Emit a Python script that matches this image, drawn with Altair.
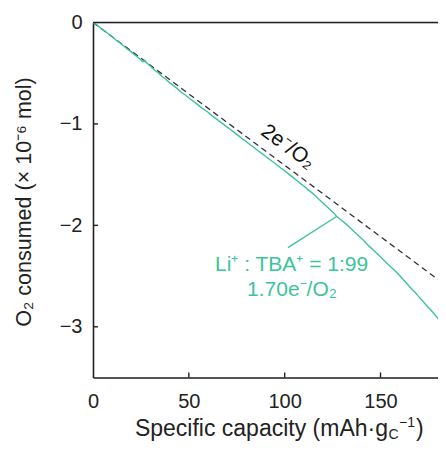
import altair as alt
import pandas as pd

# ---- data ----
capacity = [0, 2, 4, 6, 8, 10, 12, 14, 16, 18, 20, 22, 24, 26, 27, 28, 30, 32, 34, 36,
            38, 40, 42, 44, 46, 48, 50, 52, 54, 56, 58, 60, 62, 64, 66, 68, 70, 72, 74,
            76, 78, 80, 82, 84, 86, 88, 90, 92, 94, 96, 98, 100, 102, 104, 106, 108, 110,
            112, 114, 116, 118, 120, 122, 124, 126, 127, 128, 130, 132, 134, 136, 138,
            140, 142, 144, 146, 148, 150, 152, 154, 156, 158, 160, 162, 164, 166, 168,
            170, 172, 174, 176, 178, 180, 182, 184]
o2_consumed = [0.000, -0.022, -0.055, -0.082, -0.112, -0.140, -0.172, -0.200, -0.232,
               -0.262, -0.290, -0.322, -0.352, -0.388, -0.372, -0.398, -0.432, -0.468,
               -0.495, -0.532, -0.560, -0.595, -0.622, -0.652, -0.688, -0.712, -0.745,
               -0.772, -0.800, -0.832, -0.858, -0.885, -0.918, -0.945, -0.975, -1.002,
               -1.032, -1.060, -1.088, -1.118, -1.148, -1.175, -1.205, -1.232, -1.262,
               -1.290, -1.318, -1.348, -1.375, -1.405, -1.434, -1.462, -1.492, -1.522,
               -1.552, -1.584, -1.612, -1.645, -1.675, -1.708, -1.745, -1.780, -1.815,
               -1.850, -1.885, -1.910, -1.925, -1.955, -1.988, -2.022, -2.058, -2.092,
               -2.128, -2.165, -2.205, -2.238, -2.275, -2.310, -2.348, -2.385, -2.420,
               -2.455, -2.495, -2.538, -2.578, -2.622, -2.660, -2.705, -2.745, -2.790,
               -2.830, -2.872, -2.920, -2.965, -3.010]
ref_capacity = [0, 184]
ref_o2 = [0.0, -2.59]

x_ticks = [0, 50, 100, 150]
y_ticks = [0, -1, -2, -3]
x_inner_ticks = [50, 100, 150]
y_inner_ticks = [-1, -2, -3]

ann_ref_text = ["2e⁻/O₂"]
ann_ref_x = [101.7]
ann_ref_y = [-1.227]
ann_li_text = ["Li⁺ : TBA⁺ = 1:99", "1.70e⁻/O₂"]
ann_li_x = [103.6, 103.8]
ann_li_y = [-2.448, -2.695]
pointer_x = [101.7, 127.1]
pointer_y = [-2.22, -1.913]

GREEN = "#3cc49b"
INK = "#222"
FONT = "Liberation Sans"
W, H = 345, 355

xs = alt.Scale(domain=[0, 180], nice=False, zero=False)
ys = alt.Scale(domain=[-3.5, 0], nice=False, zero=False)

df_line = pd.DataFrame({"x": capacity, "y": o2_consumed})
df_ref = pd.DataFrame({"x": ref_capacity, "y": ref_o2})

base_x = alt.X("x:Q", scale=xs, axis=alt.Axis(values=x_ticks, title=None, grid=False, format="d",
               tickSize=0, labelPadding=14, labelFontSize=20, labelFont=FONT,
               labelColor=INK, domainColor=INK, domainWidth=1.6, labelFlush=False))
base_y = alt.Y("y:Q", scale=ys, axis=alt.Axis(values=y_ticks, title=None, grid=False, format="d",
               tickSize=0, labelPadding=11, labelFontSize=20, labelFont=FONT,
               labelColor=INK, domainColor=INK, domainWidth=1.6, labelFlush=False))

ref_line = alt.Chart(df_ref).mark_line(color="#333", strokeDash=[6, 4], strokeWidth=1.3, clip=True).encode(
    x=base_x, y=base_y)
green_line = alt.Chart(df_line).mark_line(color=GREEN, strokeWidth=1.4, clip=True).encode(
    x="x:Q", y="y:Q")

df_ptr = pd.DataFrame({"x": [pointer_x[0]], "y": [pointer_y[0]], "x2": [pointer_x[1]], "y2": [pointer_y[1]]})
pointer = alt.Chart(df_ptr).mark_rule(color=GREEN, strokeWidth=1.4).encode(
    x="x:Q", y="y:Q", x2="x2:Q", y2="y2:Q")

df_a1 = pd.DataFrame({"x": ann_ref_x, "y": ann_ref_y, "t": ann_ref_text})
ann1 = alt.Chart(df_a1).mark_text(font=FONT, fontSize=21, color="#111", angle=36,
                                  align="center", baseline="middle").encode(
    x="x:Q", y="y:Q", text="t:N")

df_a2 = pd.DataFrame({"x": ann_li_x, "y": ann_li_y, "t": ann_li_text})
ann2 = alt.Chart(df_a2).mark_text(font=FONT, fontSize=21, color=GREEN,
                                  align="center", baseline="alphabetic").encode(
    x="x:Q", y="y:Q", text="t:N")

df_tx = pd.DataFrame({"v": x_inner_ticks})
xtick_marks = alt.Chart(df_tx).mark_rule(color=INK, strokeWidth=1.4).encode(
    x="v:Q", y=alt.value(H), y2=alt.value(H - 5))
df_ty = pd.DataFrame({"v": y_inner_ticks})
ytick_marks = alt.Chart(df_ty).mark_rule(color=INK, strokeWidth=1.4).encode(
    y="v:Q", x=alt.value(0), x2=alt.value(5))

one = pd.DataFrame({"k": [0]})
top_border = alt.Chart(one).mark_rule(color=INK, strokeWidth=1.6).encode(
    x=alt.value(0), x2=alt.value(W), y=alt.value(0))

# axis titles as text
y_title = alt.Chart(one).mark_text(text="O₂ consumed (× 10⁻⁶ mol)", font=FONT, fontSize=21.5,
                                   color=INK, angle=270, align="center", baseline="middle").encode(
    x=alt.value(-68), y=alt.value(H / 2 + 2))
xt_main = alt.Chart(one).mark_text(text="Specific capacity (mAh·g", font=FONT, fontSize=23,
                                   color=INK, align="right", baseline="alphabetic").encode(
    x=alt.value(295), y=alt.value(413.5))
xt_sub = alt.Chart(one).mark_text(text="C", font=FONT, fontSize=14, color=INK,
                                  align="left", baseline="alphabetic").encode(
    x=alt.value(295.5), y=alt.value(416.5))
xt_sup = alt.Chart(one).mark_text(text="−1", font=FONT, fontSize=14, color=INK,
                                  align="left", baseline="alphabetic").encode(
    x=alt.value(306), y=alt.value(404))
xt_end = alt.Chart(one).mark_text(text=")", font=FONT, fontSize=23, color=INK,
                                  align="left", baseline="alphabetic").encode(
    x=alt.value(323), y=alt.value(413.5))

chart = alt.layer(
    ref_line, green_line, pointer, ann1, ann2, xtick_marks, ytick_marks, top_border,
    y_title, xt_main, xt_sub, xt_sup, xt_end
).properties(
    width=W, height=H,
    autosize=alt.AutoSizeParams(type="none"),
    padding={"left": 85, "top": 14.5, "right": 0, "bottom": 64},
).configure_view(stroke=None).configure(background="white")

chart.save("out.html", embed_options={"renderer": "svg", "actions": False})
